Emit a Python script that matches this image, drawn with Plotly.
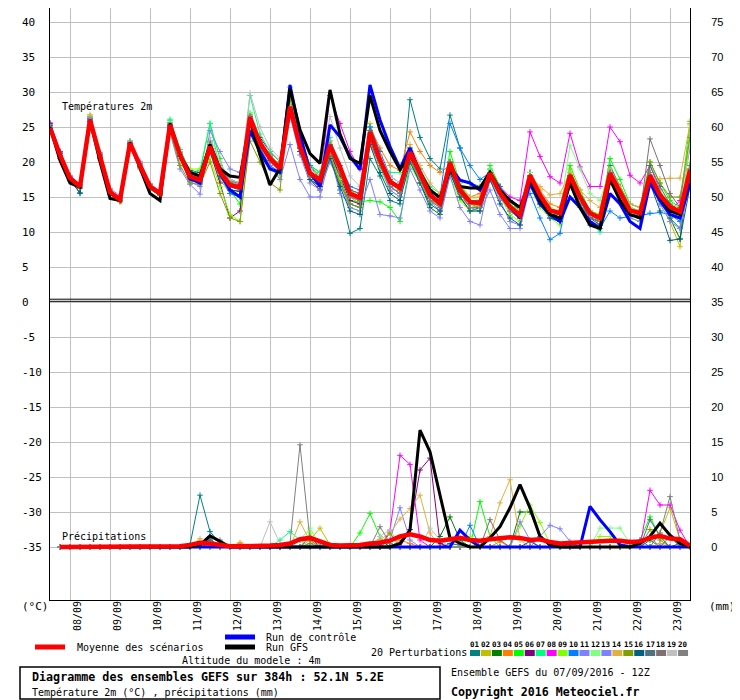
import pandas as pd
import plotly.graph_objects as go

# GEFS ensemble, run of 07/09/2016 12Z, one value every 6h
times = pd.date_range("2016-09-07 12:00", periods=65, freq="6h")
day_ticks = pd.date_range("2016-09-08", periods=16, freq="D")
day_labels = ["08/09", "09/09", "10/09", "11/09", "12/09", "13/09", "14/09", "15/09",
              "16/09", "17/09", "18/09", "19/09", "20/09", "21/09", "22/09", "23/09"]

left_ticks = [40, 35, 30, 25, 20, 15, 10, 5, 0, -5, -10, -15, -20, -25, -30, -35]
right_ticks = [75, 70, 65, 60, 55, 50, 45, 40, 35, 30, 25, 20, 15, 10, 5, 0]
member_ids = ["01", "02", "03", "04", "05", "06", "07", "08", "09", "10",
              "11", "12", "13", "14", "15", "16", "17", "18", "19", "20"]
member_colors = ["#008080", "#c0c000", "#008000", "#ff8000", "#00ff00", "#800080", "#00ff80",
                 "#ff00ff", "#80ff00", "#0080ff", "#8080ff", "#80ff80", "#8080ff", "#e0b040",
                 "#80a000", "#006080", "#507080", "#807070", "#c0c0c0", "#808080"]

# temperature 2m (°C)
mean_temp = [24.9,21.0,17.7,16.5, 26.0,20.8,15.7,14.6, 22.7,19.5,16.5,15.5, 25.3,21.0,17.9,17.4, 22.2,18.6,16.7,16.4, 26.4,22.7,20.5,19.1, 27.9,22.2,18.4,17.4, 22.4,19.3,15.5,14.9, 24.3,20.3,17.2,16.3, 21.4,18.4,15.3,14.1, 19.9,16.0,14.3,14.1, 18.4,15.6,13.6,12.4, 18.1,15.3,13.1,12.7, 18.1,15.0,12.7,12.0, 18.4,15.7,13.1,12.7, 18.1,15.3,13.6,12.9, 18.9]
control_temp = [25.0,21.0,17.6,16.5, 26.0,20.8,15.6,14.6, 22.6,19.4,16.4,15.4, 25.3,21.0,17.6,17.0, 22.0,18.5,16.0,15.0, 24.5,21.5,19.0,18.5, 31.0,24.0,18.5,16.5, 25.3,23.6,20.8,18.9, 31.0,26.0,22.2,19.1, 22.0,18.5,15.5,14.0, 19.3,17.4,17.0,16.0, 18.5,15.5,13.5,12.0, 17.0,14.0,12.5,11.5, 15.0,13.5,11.5,10.5, 15.5,14.0,11.5,10.5, 17.0,14.5,12.5,12.0, 17.0]
gfs_temp = [25.0,20.2,17.0,16.4, 26.0,20.0,14.8,14.5, 22.8,19.0,15.5,14.5, 25.5,21.0,18.5,18.0, 22.5,19.0,18.0,17.8, 26.0,21.0,16.7,19.1, 30.5,24.6,21.2,19.8, 30.3,24.0,20.5,19.8, 29.5,24.5,21.5,18.9, 21.0,18.5,16.0,14.9, 19.0,16.5,16.3,16.3, 18.5,16.0,14.5,13.5, 17.5,14.5,12.5,12.0, 17.0,13.5,11.0,10.5, 17.5,14.5,12.5,12.0, 18.0,15.0,13.0,12.5, 18.5]

t01 = [25.2,21.2,17.5,15.5, 26.2,21.0,15.6,14.5, 22.8,19.7,16.6,15.6, 25.6,21.3,18.0,17.2, 22.5,18.8,16.0,15.8, 26.0,22.5,20.5,19.6, 27.0,21.5,17.5,16.5, 21.0,16.0,9.8,10.5, 20.5,18.0,14.5,14.0, 28.9,23.5,20.5,19.0, 26.7,22.0,17.0,16.5, 19.0,16.5,14.0,13.0, 17.5,15.0,13.0,12.5, 18.0,15.5,13.0,12.0, 19.5,16.5,14.0,13.5, 18.5,15.5,12.0,10.5, 18.0]
t02 = [24.6,20.8,17.6,16.4, 26.6,20.5,15.5,14.8, 22.5,19.3,16.3,15.4, 24.8,20.5,17.5,17.0, 21.5,17.5,15.5,15.0, 25.8,22.0,19.5,18.5, 28.5,22.8,18.0,16.5, 23.0,19.5,15.0,14.0, 25.5,21.0,17.5,16.0, 20.5,17.5,14.5,13.5, 19.0,15.0,13.5,13.8, 17.5,15.0,13.0,12.0, 17.0,14.5,12.5,12.5, 19.0,15.5,12.5,11.0, 18.0,15.0,12.5,12.0, 17.0,15.0,11.5,7.9, 25.3]
t03 = [24.8,21.0,17.6,16.6, 25.8,20.6,15.5,14.4, 22.6,19.3,16.4,15.6, 25.0,20.8,17.8,17.6, 22.0,18.5,17.0,17.0, 26.5,23.0,21.0,19.5, 28.8,22.5,19.5,18.5, 21.5,17.5,14.0,13.5, 23.0,19.5,17.0,16.0, 20.5,17.0,13.5,12.5, 18.5,15.0,13.0,13.5, 17.5,16.0,14.5,13.0, 16.5,14.5,12.5,12.0, 17.5,14.0,12.0,11.5, 18.5,16.5,13.5,13.0, 17.5,15.0,12.0,9.0, 19.5]
t04 = [25.0,21.0,17.8,16.6, 26.1,21.0,15.8,14.8, 22.9,19.8,16.8,15.8, 25.5,21.5,18.3,17.8, 22.8,19.5,17.2,17.0, 26.8,23.2,21.0,19.5, 27.5,22.0,18.5,17.5, 22.0,19.5,16.0,15.5, 25.0,22.0,19.5,18.8, 24.3,21.5,19.5,18.5, 19.5,16.5,15.0,15.5, 18.0,15.5,14.0,13.0, 18.5,16.0,14.0,13.5, 17.5,14.5,12.5,12.0, 18.0,15.5,13.0,12.5, 18.5,15.5,13.5,13.0, 19.0]
t05 = [24.5,20.8,17.6,16.4, 26.3,20.8,15.8,14.5, 22.4,19.3,16.2,15.3, 25.9,21.8,18.5,18.5, 25.5,20.5,16.0,14.0, 27.0,22.8,20.0,19.0, 30.7,24.0,19.5,18.0, 22.0,18.5,14.5,14.3, 14.5,14.3,13.5,11.5, 20.0,17.5,15.0,13.5, 21.5,17.0,14.5,14.0, 19.5,16.5,14.0,13.0, 18.5,15.5,13.0,12.5, 19.5,16.0,13.0,12.5, 20.5,17.5,14.0,13.5, 20.0,17.0,14.5,13.5, 25.8]
t06 = [25.5,21.5,18.0,16.8, 26.0,21.2,16.0,14.8, 22.8,19.8,16.8,15.8, 25.0,21.5,18.8,18.5, 21.5,17.0,12.0,13.0, 25.5,23.5,21.5,20.0, 28.0,22.0,17.5,16.0, 21.5,18.0,14.5,14.0, 23.5,19.5,16.5,15.5, 21.0,18.5,15.0,14.5, 19.0,15.5,13.5,13.5, 18.5,15.5,13.5,12.0, 18.5,15.0,12.5,12.0, 17.5,14.5,12.0,11.5, 18.0,15.0,12.5,12.5, 17.5,14.5,13.0,12.5, 18.5]
t07 = [25.0,21.3,17.9,16.7, 26.5,21.3,16.0,14.9, 23.0,19.8,16.7,15.5, 26.1,21.8,18.6,18.8, 25.5,19.0,17.5,16.5, 29.5,24.0,21.5,20.0, 29.5,23.5,19.5,18.5, 23.5,19.0,15.5,15.0, 25.0,20.0,18.5,18.5, 22.0,19.0,16.5,15.5, 18.5,15.5,14.0,14.0, 18.0,15.0,13.0,12.0, 17.5,14.5,12.5,12.5, 17.0,14.0,11.5,10.0, 18.0,15.0,12.5,12.5, 17.0,14.5,12.5,12.0, 18.0]
t08 = [25.6,21.5,17.9,16.6, 26.2,21.0,15.9,14.7, 22.6,19.5,16.6,15.6, 25.2,21.0,18.2,17.8, 22.5,19.0,17.5,16.8, 26.5,22.5,20.5,19.0, 27.0,21.5,18.0,17.0, 29.5,25.5,21.5,19.0, 22.5,19.5,16.5,15.5, 21.0,18.0,15.0,13.5, 20.0,16.0,14.0,14.5, 18.5,16.5,15.0,14.5, 24.3,20.8,17.9,17.0, 24.1,19.3,16.5,16.5, 25.0,22.9,18.1,17.0, 19.5,16.0,13.0,14.5, 22.0]
t09 = [24.7,21.0,17.7,16.5, 25.9,20.7,15.6,14.6, 22.7,19.4,16.6,15.4, 24.5,19.5,19.0,19.0, 20.5,16.5,12.5,11.5, 24.0,21.0,19.0,18.0, 30.0,23.0,17.5,16.5, 21.0,17.5,13.5,13.0, 22.5,19.0,16.0,15.0, 19.5,17.0,14.5,13.5, 18.0,14.5,13.0,13.0, 17.5,15.0,12.5,11.5, 16.5,13.5,12.0,11.0, 18.5,15.5,13.0,12.5, 17.5,14.5,12.0,11.5, 18.0,15.5,14.0,13.5, 20.0]
t10 = [25.1,21.2,17.7,16.4, 26.0,20.9,15.7,14.6, 22.7,19.6,16.5,15.5, 25.3,21.0,17.6,17.0, 21.5,18.0,15.5,15.0, 25.5,22.0,19.5,18.5, 27.5,23.5,19.5,17.5, 22.5,19.5,16.5,16.0, 25.0,21.5,18.0,17.0, 22.0,19.0,16.0,15.0, 25.5,22.0,19.5,17.5, 18.5,16.5,14.5,13.5, 15.5,12.0,8.9,9.8, 17.0,14.0,11.0,10.5, 13.0,12.0,12.2,12.4, 12.7,12.8,12.5,11.5, 17.5]
t11 = [24.8,20.9,17.6,16.7, 26.4,21.4,16.2,15.2, 23.0,20.1,16.9,15.8, 24.2,19.0,16.8,15.4, 24.5,21.5,19.0,18.5, 25.5,21.5,19.5,17.5, 22.5,17.5,15.0,15.0, 21.0,15.5,14.0,13.5, 17.5,12.5,12.3,12.0, 19.0,16.0,13.0,12.0, 18.0,13.5,11.5,11.0, 17.5,14.5,11.5,11.0, 17.0,14.5,12.5,12.0, 16.5,13.5,11.5,11.0, 17.5,14.5,12.0,11.5, 17.0,14.0,12.5,12.0, 16.5]
t12 = [25.0,21.1,17.8,16.6, 26.0,20.9,15.8,14.7, 22.8,19.6,16.6,15.6, 25.5,21.3,18.3,17.8, 23.0,19.5,17.5,17.0, 27.0,23.0,20.8,19.5, 28.5,22.5,18.5,17.5, 22.5,19.5,15.5,15.0, 24.0,20.0,17.0,16.0, 21.0,18.0,15.5,14.5, 20.5,17.0,15.0,14.5, 19.0,16.0,14.0,13.0, 18.5,15.5,13.5,13.0, 22.4,19.0,15.5,14.5, 19.0,16.0,13.5,13.0, 18.5,16.0,14.0,13.5, 22.5]
t13 = [24.6,20.7,17.4,16.3, 25.7,20.5,15.4,14.4, 22.5,19.2,16.3,15.3, 25.0,20.5,17.2,16.5, 22.0,18.5,16.5,16.0, 26.0,22.5,20.0,18.5, 26.5,21.0,17.0,16.0, 20.0,17.0,13.5,13.0, 23.5,19.5,16.0,15.0, 20.5,17.5,14.5,13.0, 19.0,15.5,13.5,13.0, 16.0,12.5,10.5,10.5, 16.5,14.0,12.0,11.5, 17.5,14.5,12.0,11.5, 17.5,15.0,12.5,12.0, 17.0,14.0,11.5,10.5, 17.0]
t14 = [25.0,21.0,17.7,16.7, 26.8,21.2,16.0,15.0, 22.9,19.7,16.7,15.5, 25.4,21.2,18.0,17.5, 22.0,18.5,16.5,16.0, 26.5,22.5,20.0,18.8, 28.0,22.5,19.0,18.0, 23.0,19.5,16.0,15.0, 24.0,20.5,17.5,16.5, 22.5,19.5,17.0,15.5, 20.0,16.5,15.0,15.0, 18.5,15.5,13.5,12.5, 18.0,16.5,15.3,15.5, 18.5,16.0,14.5,13.5, 19.0,16.5,14.0,13.5, 17.5,17.6,17.7,17.7, 25.5]
t15 = [24.5,20.5,17.3,16.2, 25.6,20.3,15.3,14.3, 22.4,19.0,16.1,15.2, 24.5,19.5,17.0,16.8, 20.0,15.5,12.0,11.5, 23.0,20.0,17.0,16.0, 29.0,23.0,18.0,16.5, 21.0,17.0,14.0,13.5, 23.5,20.0,17.0,16.0, 20.5,17.5,14.5,14.0, 19.5,15.5,14.0,13.5, 18.0,15.5,13.0,12.0, 17.5,15.0,12.5,12.0, 18.0,15.0,12.5,11.5, 18.5,16.0,13.0,12.5, 20.0,17.0,15.0,15.0, 23.5]
t16 = [25.3,21.3,17.5,15.6, 25.8,20.6,15.6,14.7, 22.6,19.4,16.4,15.4, 25.2,20.8,17.7,17.3, 22.0,18.0,16.0,15.8, 26.2,22.5,20.2,19.0, 27.5,21.5,17.5,16.5, 20.5,16.5,13.0,12.5, 22.5,18.5,15.5,14.5, 20.0,17.0,14.0,13.0, 18.5,15.0,13.0,13.0, 17.5,14.0,12.0,11.0, 17.0,14.0,12.0,11.5, 17.5,14.5,12.0,11.0, 18.0,14.5,12.5,12.0, 17.0,13.0,8.8,9.0, 16.5]
t17 = [24.8,20.9,17.7,16.5, 26.0,20.7,15.6,14.6, 22.7,19.4,16.5,15.5, 25.3,21.0,17.9,17.4, 23.0,19.5,17.5,17.0, 26.5,23.0,20.7,19.3, 27.0,22.0,18.0,17.0, 22.5,19.5,16.0,15.5, 24.5,20.5,17.5,16.5, 21.5,18.5,15.5,14.0, 20.0,16.5,14.5,14.5, 18.5,15.5,13.5,12.5, 18.0,15.0,13.0,12.5, 18.0,15.0,12.5,12.0, 18.5,15.5,13.0,12.5, 19.5,16.5,14.0,13.0, 19.5]
t18 = [24.7,20.8,17.5,16.5, 25.9,20.8,15.7,14.6, 22.6,19.5,16.5,15.4, 25.1,20.9,17.6,17.0, 22.5,18.8,17.0,16.5, 26.3,22.5,20.3,18.8, 27.8,22.0,18.0,17.0, 22.0,18.5,15.0,14.5, 24.0,20.0,16.5,15.5, 21.5,18.5,15.0,14.0, 20.0,16.0,14.5,14.0, 18.0,15.5,13.5,12.5, 18.0,15.0,13.0,12.5, 17.5,14.5,12.0,11.5, 18.5,15.5,13.0,12.5, 23.3,19.5,15.5,13.5, 19.0]
t19 = [25.0,21.0,17.6,16.5, 26.0,20.8,15.8,14.7, 22.8,19.5,16.6,15.6, 25.5,21.5,18.5,18.0, 23.5,20.0,17.5,17.0, 29.9,25.0,22.0,20.5, 28.0,23.0,19.0,18.0, 26.5,22.0,18.0,16.5, 24.0,21.0,18.0,17.0, 21.5,18.5,15.5,14.5, 19.5,16.5,14.5,14.0, 18.0,15.0,13.0,12.0, 17.5,14.5,12.5,12.0, 17.5,14.5,12.5,12.0, 18.0,15.0,13.0,12.5, 18.0,15.0,13.5,13.0, 18.0]
t20 = [24.9,20.9,17.7,16.6, 26.1,21.0,15.9,14.9, 22.8,19.7,16.8,15.7, 25.4,21.3,18.2,17.7, 22.3,18.5,16.5,16.0, 26.6,22.8,20.8,19.4, 27.5,22.0,18.0,17.0, 21.5,18.5,15.0,14.5, 23.5,19.5,16.5,15.5, 20.5,17.5,14.5,13.5, 19.5,15.5,13.5,13.5, 18.0,15.0,13.0,12.0, 18.0,15.0,13.0,12.5, 18.0,15.0,12.5,11.5, 18.5,15.5,13.0,12.5, 18.5,15.0,13.0,12.5, 19.5]

# precipitation (mm per 6h), from the 2nd time step on
mean_precip = [0,0,0,0, 0,0,0,0, 0,0,0,0, 0.1,0.3,0.6,0.5, 0.3,0.1,0.1,0.1, 0.1,0.2,0.3,0.5, 1.1,1.3,0.8,0.3, 0.2,0.2,0.3,0.5, 0.6,0.9,1.5,1.8, 1.5,1.0,0.9,1.1, 1.3,1.0,0.9,1.1, 1.3,1.4,1.3,1.0, 1.1,0.7,0.5,0.6, 0.7,0.8,0.8,0.9, 0.9,0.7,0.8,1.3, 1.6,1.2,1.1,0.2]
control_precip = [0,0,0,0, 0,0,0,0, 0,0,0,0, 0,0,0,0, 0,0,0,0, 0,0,0,0, 0,0,0,0, 0,0,0,0, 0,0,0,0, 0,0,0,0, 2.4,1.0,0,0, 0,0,0,0, 0,0,0,0, 0,5.8,3.9,2.2, 0.3,0,0,0, 0,0,0,0]
gfs_precip = [0,0,0,0, 0,0,0,0, 0,0,0,0, 0,0,0.3,1.6, 0.8,0,0,0, 0,0,0,0, 0,0,0,0, 0,0,0,0, 0,0,0.5,2.4, 16.7,13.6,7.4,1.3, 0.5,0,0,1.3, 2.9,5.6,8.9,5.6, 1.5,0.3,0,0, 0,0,0,0, 0,0,0.5,1.5, 3.4,1.7,0.5,0]

p01 = [0,0,0,0, 0,0,0,0, 0,0,0,0, 0,0.3,7.4,2.2, 0.5,0,0,0, 0,0,0,0, 0,0,0,0, 0,0,0,0, 0,0,0,0, 0,0,0,0.5, 0.3,0,0,0, 0,0,0,0, 0,0,0,0, 0,0,0,0, 0,0,0,0, 0,0,0,0]
p02 = [0,0,0,0, 0,0,0,0, 0,0,0,0, 0,0,0,0, 0,0,0,0, 0,0,0,0, 0,1.0,2.7,0.3, 0,0,0,0, 0,0,0,0, 0,0,0,0, 0,0,0,0, 0,0,0,0, 0,0,0,0.5, 0,0,0,0, 0,0,0,0, 2.0,5.6,1.0,0]
p03 = [0,0,0,0, 0,0,0,0, 0,0,0,0, 0,0,0,0, 0,0,0,0, 0,0,0,0, 0,0,0,0, 0,0,0,0, 1.0,0,0,0, 0,0,1.5,4.3, 1.0,0,0,0, 0,0,5.0,5.0, 1.5,0,0,0, 0,0,0,0, 0,0,0,1.0, 0,0,0,0]
p04 = [0,0,0,0, 0,0,0,0, 0,0,0,0, 0,0,0.5,0, 0,0,0.6,0, 0,0,0,0, 0,0,0,0, 0,0,0,0, 0,0,1.0,0.5, 0,0,0,0, 0,0,0,0, 0.8,0,0,0, 0,0,0,0, 0,0,0,0, 0,0,0,0, 0,0,0,0]
p05 = [0,0,0,0, 0,0,0,0, 0,0,0,0, 0,0,0,0, 0,0,0,0, 0,0,0,0, 0,0,0,0, 0,0,2.0,4.8, 1.5,0,0,0, 0,0,0,0, 0,0,6.5,1.5, 0,0,0,0, 0,0,0,0, 0,0,0,0, 0,0,1.0,4.3, 1.5,0,0,0]
p06 = [0,0,0,0, 0,0,0,0, 0,0,0,0, 0,0,0,0, 0,0,0,0, 0,0,0,0, 1.0,1.5,0,0, 0,0,0,0, 0,0,0,2.5, 11.0,12.7,0.5,0, 0,0,0,0, 0,0,0,0, 0,0,0,0, 0,0,0,0, 0,0,0,0, 0,0,0,0]
p07 = [0,0,0,0, 0,0,0,0, 0,0,0,0, 0,0,0,0, 0,0,0,0, 0,0,1.0,2.2, 1.0,0,0,0, 0,0,0,0, 0,0,0,0, 0,0,0,0, 0,0,0,0, 0,0,0,0, 0,0,0,0, 0,0,0,0, 0,0.5,0,0, 0,0,0,0]
p08 = [0,0,0,0, 0,0,0,0, 0,0,0,0, 0,0,0,0, 0,0,0,0, 0,0,0,0, 0,1.5,0.5,0, 0,0,0,0, 0,2.3,13.1,11.8, 1.0,0,0,0, 0,0,0,0, 0,0,0,0, 0,0,0,0, 0,0,0,0, 0,0,0,8.1, 6.0,6.0,2.4,0]
p09 = [0,0,0,0, 0,0,0,0, 0,0,0,0, 0,0,0,0, 0,0,0,0, 0,0,0,0, 0,2.0,0,0, 0,0,0,0, 0,0,0,0, 0,0,0,0, 0,1.5,0,0, 0,0,3.0,6.0, 3.5,0.5,0,0, 0,0,1.5,1.5, 0,0,0,0, 0,0,0,0]
p10 = [0,0,0,0, 0,0,0,0, 0,0,0,0, 0,0,0,0, 0.5,0,0,0, 0,0,0,0, 0,0,0,0, 0,0,0,0, 0,0,0,0, 0,0,0,0, 0,3.1,0,0, 0,0,0,0, 0,0,0,0, 0,0,0,0, 0,0,1.0,0, 0,0,0,0]
p11 = [0,0,0,0, 0,0,0,0, 0,0,0,0, 0,0,0,0, 0,0,0,0, 0,0,0,0, 0,0,0,0, 0,0,0,0, 0,1.0,5.6,1.0, 0,0,0,0, 0,0,0,0, 0,0,3.6,1.0, 0,0,0,0, 0,0,0,0, 0,0,0,0, 0,0,0,0]
p12 = [0,0,0,0, 0,0,0,0, 0,0,0,0, 0,0,0,0, 0,0,0,0, 0,0,0,0, 1.0,2.7,0.3,0, 0,0,0,0, 0,0,0,0, 0,0,0,0, 0,0,0,0, 0,0,0,0, 0,0,0,0, 0,0,2.7,2.7, 2.7,0.5,0,0, 0,0,0,0]
p13 = [0,0,0,0, 0,0,0,0, 0,0,0,0, 0,0,0,0, 0,0,0,0, 0,0,0,0, 0,0,0,0, 0,0,0,0, 0,0,0,0, 0,0,0,0, 0,0,0,0, 0,0,0,0, 1.5,3.1,2.6,0.8, 0,0,0,0, 0,0.8,0,1.5, 0,0,0,0]
p14 = [0,0,0,0, 0,0,0,0, 0,0,0,0, 0,0,1.2,0, 0,0,0,0, 0,0,0,0, 3.6,0.8,0,0, 0,0,0,0, 1.0,2.0,4.0,5.5, 7.4,2.0,0,0, 0,0,0,1.5, 6.3,9.6,1.0,0, 0,0,0,0, 0,0,0,0, 0,0,0,0, 0.5,0,0,0]
p15 = [0,0,0,0, 0,0,0,0, 0,0,0,0, 0,0,0,0, 0,0,0,0, 0,0,0,0, 0,0.5,0,0, 0,0,0,0, 0,2.0,0,0, 0,0,0,0, 0,0,0,0, 0,0,0,0, 0,0,0,0, 0,0,0,0, 0,0,0,2.5, 1.0,0,0,0]
p16 = [0,0,0,0, 0,0,0,0, 0,0,0,0, 0,0,0.5,1.0, 0,0,0,0, 0,0,0,0, 0,0,0,0, 0,0,0,0, 0,0,0,0, 0,0,0,0, 0,0,0,0, 0,0,0,0.8, 0,0,0,0, 0,0,0,0, 0,0,0,0, 0,0,0.5,0]
p17 = [0,0,0,0, 0,0,0,0, 0,0,0,0, 0,0,0,1.2, 0,0,0,0, 0,0,0,0, 0,0,0,0, 0,0,0,0, 0,0,0,0, 0,0,0,0, 0,0,0,0, 0,0,0,0, 0,0,0,0, 0,0,0,0, 0,0,0,3.9, 1.5,0,0,0]
p18 = [0,0,0,0, 0,0,0,0, 0,0,0,0, 0,0,0,0.5, 0,0,0,0, 0,0,0,0, 0,0,0,0, 0,0,0,0, 0,0,0,0, 0,0,0,0, 0,0,0,3.9, 1.0,0,0,0, 0,0,0,0, 0,0,0,0, 0,0,0,0, 0,1.5,0,0]
p19 = [0,0,0,0, 0,0,0,0, 0,0,0,0, 0,0,0,0, 0,0,0,0, 0,3.6,0.5,0, 0,0,0,0, 0,0,0,0, 1.5,2.5,0,0, 0,2.7,1.0,0, 0,0,0,0, 0,0,0,0, 0,0,0,0, 0,0,0,0, 0,0,0,0, 0,0,0,0]
p20 = [0,0,0,0, 0,0,0,0, 0,0,0,0, 0,0,0,1.5, 1.0,0,0,0, 0,0,0,0.5, 14.6,1.0,0,0, 0,0,0,0, 2.9,0.5,0,0, 0,0,0,0, 0,0,0,0, 0,0,0,0, 0,0,0,0, 0,0,0,0, 0,0,0,0, 2.0,7.2,1.0,0]

member_temps = [t01, t02, t03, t04, t05, t06, t07, t08, t09, t10,
                t11, t12, t13, t14, t15, t16, t17, t18, t19, t20]
member_precips = [p01, p02, p03, p04, p05, p06, p07, p08, p09, p10,
                  p11, p12, p13, p14, p15, p16, p17, p18, p19, p20]

# the page is drawn 8px in from the window corner, so the figure is 8px smaller
# and everything below is placed in window pixels
Y_RANGE = [-42.571, 42.0]
SHIFT = 35  # precipitation (right axis) sits 35 units below temperature (left axis)
MONO = "DejaVu Sans Mono"


def px_x(px):
    return (px - 50) / 640


def px_y(py):
    return (600 - py) / 592


fig = go.Figure()

for col, temp in zip(member_colors, member_temps):
    fig.add_trace(go.Scatter(x=times, y=temp, mode="lines+markers",
                             line=dict(color=col, width=1),
                             marker=dict(symbol="cross-thin", size=4, line=dict(color=col, width=1))))
fig.add_trace(go.Scatter(x=times, y=control_temp, mode="lines", line=dict(color="#0000ff", width=3)))
fig.add_trace(go.Scatter(x=times, y=gfs_temp, mode="lines", line=dict(color="#000000", width=3)))
fig.add_trace(go.Scatter(x=times, y=mean_temp, mode="lines", line=dict(color="#ff0000", width=4.5)))

for col, pr in zip(member_colors, member_precips):
    fig.add_trace(go.Scatter(x=times[1:], y=pr, yaxis="y2", mode="lines+markers",
                             line=dict(color=col, width=1),
                             marker=dict(symbol="cross-thin", size=4, line=dict(color=col, width=1))))
fig.add_trace(go.Scatter(x=times[1:], y=control_precip, yaxis="y2", mode="lines",
                         line=dict(color="#0000ff", width=3)))
fig.add_trace(go.Scatter(x=times[1:], y=gfs_precip, yaxis="y2", mode="lines",
                         line=dict(color="#000000", width=3)))
fig.add_trace(go.Scatter(x=times[1:], y=mean_precip, yaxis="y2", mode="lines",
                         line=dict(color="#ff0000", width=4.5)))

annotations = []
for v in left_ticks:
    annotations.append(dict(x=px_x(20), xref="paper", y=v, yref="y", text=str(v),
                            showarrow=False, xanchor="left", yanchor="middle",
                            font=dict(family=MONO, size=11, color="black")))
for d, lab in zip(day_ticks, day_labels):
    annotations.append(dict(x=d, xref="x", y=px_y(616), yref="paper", text=lab, textangle=-90,
                            xshift=7, showarrow=False, xanchor="center", yanchor="middle",
                            font=dict(family=MONO, size=10, color="black")))


def label(px, py, text, size=10, anchor="left"):
    annotations.append(dict(x=px_x(px), xref="paper", y=px_y(py), yref="paper", text=text,
                            showarrow=False, xanchor=anchor, yanchor="middle",
                            font=dict(family=MONO, size=size, color="black")))


label(60, 106, "Températures 2m")
label(60, 536, "Précipitations")
label(20, 606, "(°C)", 11)
label(707, 606, "(mm)", 11)
label(75, 647, "Moyenne des scénarios")
label(264, 637, "Run de contrôle")
label(264, 647, "Run GFS")
label(180, 660, "Altitude du modele : 4m")
label(369, 652, "20 Perturbations")
label(30, 677, "<b>Diagramme des ensembles GEFS sur 384h : 52.1N 5.2E</b>", 11.7)
label(30, 692, "Température 2m (°C) , précipitations (mm)")
label(449, 672, "Ensemble GEFS du 07/09/2016 - 12Z")
label(449, 692, "<b>Copyright 2016 Meteociel.fr</b>", 11.6)

shapes = [
    dict(type="line", xref="paper", yref="y", x0=0, x1=1, y0=0.1, y1=0.1,
         line=dict(color="black", width=1)),
    dict(type="line", xref="paper", yref="y", x0=0, x1=1, y0=0.4, y1=0.4,
         line=dict(color="black", width=1)),
    dict(type="line", xref="paper", yref="paper", x0=px_x(35), x1=px_x(65), y0=px_y(647), y1=px_y(647),
         line=dict(color="#ff0000", width=5)),
    dict(type="line", xref="paper", yref="paper", x0=px_x(225), x1=px_x(255), y0=px_y(637), y1=px_y(637),
         line=dict(color="#0000ff", width=5)),
    dict(type="line", xref="paper", yref="paper", x0=px_x(225), x1=px_x(255), y0=px_y(647), y1=px_y(647),
         line=dict(color="#000000", width=5)),
    dict(type="rect", xref="paper", yref="paper", x0=px_x(20), x1=px_x(440), y0=px_y(699), y1=px_y(667),
         line=dict(color="black", width=1.5)),
]
for k, (mid, col) in enumerate(zip(member_ids, member_colors)):
    left = 470 + 10.95 * k
    shapes.append(dict(type="rect", xref="paper", yref="paper", x0=px_x(left), x1=px_x(left + 10),
                       y0=px_y(656), y1=px_y(650), fillcolor=col, line=dict(width=0)))
    annotations.append(dict(x=px_x(left + 5), xref="paper", y=px_y(644), yref="paper",
                            text="<b>" + mid + "</b>", showarrow=False, xanchor="center",
                            yanchor="middle", font=dict(family=MONO, size=7.5, color="black")))

fig.update_layout(
    width=732, height=692, autosize=False, showlegend=False,
    margin=dict(l=42, r=50, t=0, b=100),
    paper_bgcolor="white", plot_bgcolor="white",
    xaxis=dict(type="date", range=[times[0], times[-1]], tick0="2016-09-08", dtick=86400000,
               showgrid=True, gridcolor="#c0c0c0", gridwidth=1, showticklabels=False, ticks="",
               zeroline=False, showline=True, linecolor="black", linewidth=1),
    yaxis=dict(range=Y_RANGE, tickvals=left_ticks, showticklabels=False, ticks="",
               showgrid=True, gridcolor="#c0c0c0", gridwidth=1, zeroline=False,
               showline=True, linecolor="black", linewidth=1),
    yaxis2=dict(range=[Y_RANGE[0] + SHIFT, Y_RANGE[1] + SHIFT], overlaying="y", side="right",
                tickvals=right_ticks, showgrid=False, zeroline=False, ticks="",
                showline=True, linecolor="black", linewidth=1, ticklabelstandoff=18,
                tickfont=dict(family="Liberation Sans", size=11, color="black")),
    annotations=annotations, shapes=shapes,
)

fig.write_html("out.html")
